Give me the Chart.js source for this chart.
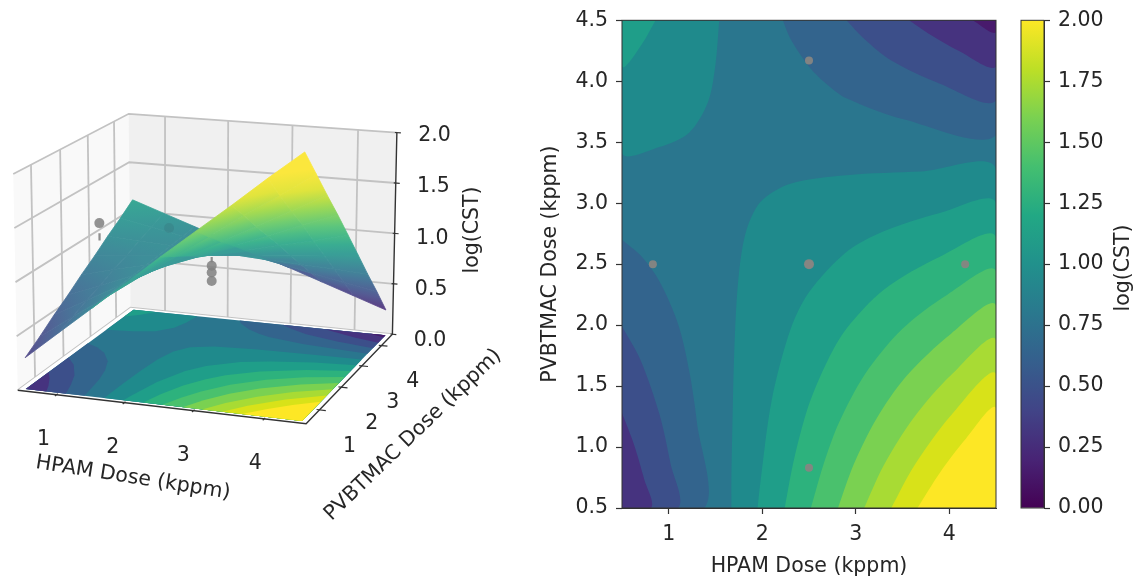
<!DOCTYPE html>
<html>
<head>
<meta charset="utf-8">
<script src="https://cdn.jsdelivr.net/npm/chart.js@4/dist/chart.umd.min.js"></script>
<style>
  html, body { margin: 0; background: #fff; }
  canvas { position: absolute; top: 0; filter: blur(0.4px); }
</style>
</head>
<body>
<canvas id="c3d" width="520" height="579" style="left:0"></canvas>
<canvas id="cmap" width="500" height="579" style="left:520px"></canvas>
<canvas id="cbar" width="134" height="579" style="left:1010px"></canvas>
<script>
const hpamTicks = [1, 2, 3, 4];
const pvbTicks = [0.5, 1, 1.5, 2, 2.5, 3, 3.5, 4, 4.5];
const pvbTicks3d = [1, 2, 3, 4];
const zTicks3d = [0, 0.5, 1, 1.5, 2];
const cbarTicks = [0, 0.25, 0.5, 0.75, 1, 1.25, 1.5, 1.75, 2];

// measured doses
const doseX = [0.83, 2.5, 4.17, 2.5, 2.5];
const doseY = [2.5, 2.5, 2.5, 0.83, 4.17];

// 3d scatter, only the ones that show past the surface
const shown3d = [[0.79, 2.5, 1.23], [2.5, 2.5, 0.915], [2.5, 2.5, 0.85], [2.5, 2.5, 0.77]];
const faint3d = [[2.5, 0.83, 1.55]];
const stems3d = [[[0.79, 2.5, 1.13], [0.79, 2.5, 1.06]], [[2.5, 2.5, 1.0], [2.5, 2.5, 0.95]]];

// surface log(CST), rows are PVBTMAC, columns are HPAM
const gridDose = [0.5, 1, 1.5, 2, 2.5, 3, 3.5, 4, 4.5];
const surface = [
  [0.29, 0.55, 0.81, 1.07, 1.34, 1.60, 1.86, 2.13, 2.39],
  [0.39, 0.61, 0.82, 1.04, 1.26, 1.47, 1.69, 1.90, 2.12],
  [0.50, 0.67, 0.84, 1.01, 1.18, 1.34, 1.51, 1.68, 1.85],
  [0.60, 0.72, 0.85, 0.97, 1.09, 1.22, 1.34, 1.47, 1.59],
  [0.71, 0.79, 0.86, 0.94, 1.02, 1.09, 1.17, 1.24, 1.32],
  [0.81, 0.84, 0.87, 0.90, 0.93, 0.96, 0.99, 1.02, 1.05],
  [0.92, 0.90, 0.885, 0.87, 0.85, 0.83, 0.815, 0.80, 0.78],
  [1.02, 0.96, 0.895, 0.83, 0.77, 0.71, 0.645, 0.58, 0.52],
  [1.13, 1.02, 0.91, 0.80, 0.69, 0.58, 0.47, 0.36, 0.25]
];

// contour lines, [HPAM, PVBTMAC]
const lowLeft45 = [[0.5,2.70],[0.70,2.57],[0.90,2.36],[1.10,2.01],[1.22,1.62],[1.30,1.21],[1.38,0.5]];
const lowLeft34 = [[0.5,1.99],[0.70,1.71],[0.90,1.27],[1.02,0.86],[1.10,0.5]];
const lowLeft23 = [[0.5,1.28],[0.62,1.04],[0.74,0.73],[0.81,0.5]];
const lowRight56 = [[1.67,0.5],[1.67,0.73],[1.68,1.15],[1.70,1.77],[1.74,2.34],[1.82,2.75],[1.98,3.01],[2.30,3.16],[2.90,3.23],[3.70,3.26],[4.5,3.28]];
const lowRight67 = [[1.95,0.5],[1.98,0.71],[2.10,1.38],[2.30,1.96],[2.50,2.27],[2.90,2.60],[3.30,2.77],[3.90,2.92],[4.5,3.0]];
const lowRight78 = [[2.24,0.5],[2.34,0.90],[2.50,1.35],[2.70,1.71],[2.90,1.97],[3.30,2.29],[3.90,2.56],[4.5,2.72]];
const lowRight89 = [[2.52,0.5],[2.66,0.87],[2.82,1.20],[3.10,1.60],[3.50,1.97],[3.98,2.25],[4.5,2.44]];
const lowRight910 = [[2.81,0.5],[2.98,0.86],[3.22,1.23],[3.54,1.58],[4.02,1.93],[4.5,2.16]];
const lowRight1011 = [[3.09,0.5],[3.30,0.85],[3.62,1.24],[4.02,1.59],[4.5,1.88]];
const lowRight1112 = [[3.38,0.5],[3.62,0.84],[4.02,1.26],[4.5,1.60]];
const lowRight1213 = [[3.66,0.5],[3.90,0.79],[4.18,1.07],[4.5,1.32]];
const topLeft56 = [[1.54,4.5],[1.50,4.14],[1.42,3.83],[1.22,3.58],[0.90,3.46],[0.5,3.41]];
const topLeft67 = [[0.86,4.5],[0.70,4.29],[0.5,4.12]];
const topRight45 = [[2.22,4.5],[2.30,4.35],[2.50,4.12],[2.70,3.97],[2.90,3.86],[3.50,3.69],[4.5,3.56]];
const topRight34 = [[2.90,4.5],[3.10,4.34],[3.38,4.17],[3.90,3.98],[4.5,3.84]];
const topRight23 = [[3.57,4.5],[3.78,4.39],[4.10,4.25],[4.5,4.12]];
const topRight12 = [[4.25,4.5],[4.5,4.40]];

const bandColors = ['#440154','#481a6c','#46337f','#3c4f8a','#33648d','#2a768e','#1f8a8c','#1f9e89','#2db27d','#4ac16d','#7ad151','#a8db34','#d8e219','#fde725'];
const viridis = ['#440154','#482475','#414487','#355f8d','#2a788e','#21918c','#22a884','#44bf70','#7ad151','#bddf26','#fde725'];

// paint order: the saddle band first, then nested from the outside in
const past = 0.2;
const LL = [0.5 - past, 0.5 - past], LR = [4.5 + past, 0.5 - past], TL = [0.5 - past, 4.5 + past], TR = [4.5 + past, 4.5 + past];
const regions = [
  [5, [LL, LR, TR, TL]],
  [6, [...lowRight56, LR]], [7, [...lowRight67, LR]], [8, [...lowRight78, LR]], [9, [...lowRight89, LR]],
  [10, [...lowRight910, LR]], [11, [...lowRight1011, LR]], [12, [...lowRight1112, LR]], [13, [...lowRight1213, LR]],
  [6, [...topLeft56, TL]], [7, [...topLeft67, TL]],
  [4, [...lowLeft45, LL]], [3, [...lowLeft34, LL]], [2, [...lowLeft23, LL]],
  [4, [...topRight45, TR]], [3, [...topRight34, TR]], [2, [...topRight23, TR]], [1, [...topRight12, TR]]
];

const fontFamily = '"DejaVu Sans"';
const textColor = '#262626';
const fontPx = 20.5;

// ---- 3d box projection, fitted to the four floor corners ----
const boxMin = 0.4167, boxMax = 4.5833;
const floorC = { left: [13, 392], front: [307, 426], right: [395, 335], back: [128, 308] };
const dx1 = floorC.front[0] - floorC.right[0], dx2 = floorC.back[0] - floorC.right[0];
const dy1 = floorC.front[1] - floorC.right[1], dy2 = floorC.back[1] - floorC.right[1];
const sx = floorC.left[0] - floorC.front[0] + floorC.right[0] - floorC.back[0];
const sy = floorC.left[1] - floorC.front[1] + floorC.right[1] - floorC.back[1];
const den = dx1 * dy2 - dx2 * dy1;
const hg = (sx * dy2 - dx2 * sy) / den, hh = (dx1 * sy - sx * dy1) / den;
const ha = floorC.front[0] - floorC.left[0] + hg * floorC.front[0], hb = floorC.back[0] - floorC.left[0] + hh * floorC.back[0];
const hd = floorC.front[1] - floorC.left[1] + hg * floorC.front[1], he = floorC.back[1] - floorC.left[1] + hh * floorC.back[1];

function project(x, y, z) {
  const u = (x - boxMin) / (boxMax - boxMin), v = (y - boxMin) / (boxMax - boxMin);
  const w = hg * u + hh * v + 1;
  const px = (ha * u + hb * v + floorC.left[0]) / w;
  const py = (hd * u + he * v + floorC.left[1]) / w;
  return { x: px + z * 0.012 * (px - 205), y: py - z * 110 / w };
}

function viridisAt(t, fade) {
  const k = Math.min(Math.max(t, 0), 1) * (viridis.length - 1);
  const i = Math.min(Math.floor(k), viridis.length - 2), f = k - i;
  const c = (hex, p) => parseInt(hex.substr(p, 2), 16);
  const mix = p => c(viridis[i], p) * (1 - f) + c(viridis[i + 1], p) * f;
  const out = [1, 3, 5].map(p => Math.round(mix(p) * (1 - fade) + 235 * fade));
  return `rgb(${out[0]},${out[1]},${out[2]})`;
}

let layer = 0;
function shape(points, color, extra) {
  return Object.assign({
    data: points, fill: 'shape', backgroundColor: color, borderWidth: 0,
    pointRadius: 0, tension: 0, order: -(layer++)
  }, extra);
}
function stroke(points, color, width) {
  return { data: points, fill: false, borderColor: color, borderWidth: width, pointRadius: 0, tension: 0, order: -(layer++) };
}
function dots(points, color, radius) {
  return { data: points, showLine: false, pointRadius: radius, pointBackgroundColor: color, pointBorderWidth: 0, order: -(layer++) };
}

const gctx = document.getElementById('c3d').getContext('2d');
const surfaceFade = 0.12;

// one surface cell, filled along its steepest direction on screen
function cellFill(p, z) {
  const e1x = p[1].x - p[0].x, e1y = p[1].y - p[0].y, e2x = p[3].x - p[0].x, e2y = p[3].y - p[0].y;
  const dz1 = z[1] - z[0], dz2 = z[3] - z[0];
  const det = e1x * e2y - e2x * e1y;
  if (Math.abs(det) < 1e-6) return viridisAt((z[0] + z[2]) / 4, surfaceFade);
  const A = (dz1 * e2y - dz2 * e1y) / det, B = (dz2 * e1x - dz1 * e2x) / det;
  const n2 = A * A + B * B;
  if (n2 < 1e-10) return viridisAt(z[0] / 2, surfaceFade);
  const zLo = Math.min(...z), zHi = Math.max(...z);
  const at = val => ({ x: p[0].x + A * (val - z[0]) / n2, y: p[0].y + B * (val - z[0]) / n2 });
  const s = at(zLo), e = at(zHi);
  const g = gctx.createLinearGradient(s.x, s.y, e.x, e.y);
  [0, 0.5, 1].forEach(t => g.addColorStop(t, viridisAt((zLo + (zHi - zLo) * t) / 2, surfaceFade)));
  return g;
}

function build3d() {
  const sets = [];
  const lo = boxMin, hi = boxMax;
  const c3 = (a, b, c) => project(a, b, c);
  // walls
  sets.push(shape([c3(lo, lo, 0), c3(lo, hi, 0), c3(lo, hi, 2), c3(lo, lo, 2)], '#f9f9f9'));
  sets.push(shape([c3(lo, hi, 0), c3(hi, hi, 0), c3(hi, hi, 2), c3(lo, hi, 2)], '#f0f0f0'));
  const gridColor = '#c2c2c2';
  pvbTicks3d.forEach(y => sets.push(stroke([c3(lo, y, 0), c3(lo, y, 2)], gridColor, 1.8)));
  hpamTicks.forEach(x => sets.push(stroke([c3(x, hi, 0), c3(x, hi, 2)], gridColor, 1.8)));
  zTicks3d.forEach(z => sets.push(stroke([c3(lo, lo, z), c3(lo, hi, z), c3(hi, hi, z)], gridColor, 1.8)));
  // floor
  sets.push(shape([c3(lo, lo, 0), c3(hi, lo, 0), c3(hi, hi, 0), c3(lo, hi, 0)], '#ffffff'));
  const clampDose = v => Math.min(Math.max(v, 0.5), 4.5);
  regions.forEach(([band, pts]) => {
    sets.push(shape(pts.map(q => c3(clampDose(q[0]), clampDose(q[1]), 0)), bandColors[band]));
  });
  // axes edges and ticks
  const axisColor = '#333333';
  sets.push(stroke([c3(lo, lo, 0), c3(hi, lo, 0), c3(hi, hi, 0), c3(hi, hi, 2)], axisColor, 1.4));
  hpamTicks.forEach(x => sets.push(stroke([c3(x, lo + 0.04, 0), c3(x, lo - 0.06, 0)], axisColor, 1.2)));
  pvbTicks3d.forEach(y => sets.push(stroke([c3(hi - 0.04, y, 0), c3(hi + 0.09, y, 0)], axisColor, 1.2)));
  zTicks3d.forEach(z => sets.push(stroke([c3(hi - 0.03, hi, z), c3(hi + 0.06, hi, z)], axisColor, 1.2)));
  // surface, far cells first (camera sits towards high HPAM, low PVBTMAC)
  const cells = [];
  for (let r = 0; r < gridDose.length - 1; r++) {
    for (let c = 0; c < gridDose.length - 1; c++) cells.push([r, c]);
  }
  const near = ([r, c]) => 0.5 * gridDose[c] - 0.866 * gridDose[r];
  cells.sort((a, b) => near(a) - near(b));
  cells.forEach(([r, c]) => {
    const idx = [[r, c], [r, c + 1], [r + 1, c + 1], [r + 1, c]];
    const z = idx.map(([i, j]) => surface[i][j]);
    const p = idx.map(([i, j]) => c3(gridDose[j], gridDose[i], surface[i][j]));
    const f = cellFill(p, z);
    sets.push(shape([...p, p[0]], f, { borderColor: f, borderWidth: 0.8 }));
  });
  // scatter
  stems3d.forEach(s => sets.push(stroke(s.map(q => c3(q[0], q[1], q[2])), 'rgba(125,125,125,0.85)', 2.2)));
  sets.push(dots(faint3d.map(q => c3(q[0], q[1], q[2])), 'rgba(50,90,100,0.18)', 5));
  sets.push(dots(shown3d.map(q => c3(q[0], q[1], q[2])), 'rgba(128,128,128,0.85)', 5));
  return sets;
}

function label(ctx, text, x, y, deg) {
  ctx.save();
  ctx.translate(x, y);
  ctx.rotate((deg || 0) * Math.PI / 180);
  ctx.font = `${fontPx}px ${fontFamily}`;
  ctx.fillStyle = textColor;
  ctx.textAlign = 'center';
  ctx.textBaseline = 'middle';
  ctx.fillText(text, 0, 0);
  ctx.restore();
}

const labels3d = {
  id: 'labels3d',
  afterDraw(chart) {
    const ctx = chart.ctx;
    hpamTicks.forEach(x => {
      const p = project(x, boxMin, 0);
      label(ctx, String(x), p.x - 9, p.y + 43);
    });
    pvbTicks3d.forEach(y => {
      const p = project(boxMax, y, 0);
      label(ctx, String(y), p.x + 29, p.y + 35);
    });
    zTicks3d.forEach(z => {
      const p = project(boxMax, boxMax, z);
      label(ctx, z.toFixed(1), p.x + 35, p.y + 6);
    });
    label(ctx, 'HPAM Dose (kppm)', 133, 478, 8.9);
    label(ctx, 'PVBTMAC Dose (kppm)', 413, 435, -44);
    label(ctx, 'log(CST)', 473, 230, -90);
  }
};

new Chart(gctx, {
  type: 'line',
  data: { datasets: build3d() },
  options: {
    responsive: false, animation: false, events: [],
    elements: { line: { capBezierPoints: false } },
    layout: { padding: 0 },
    plugins: { legend: { display: false }, tooltip: { enabled: false } },
    scales: {
      x: { type: 'linear', min: 0, max: 520, display: false },
      y: { type: 'linear', min: 0, max: 579, reverse: true, display: false }
    }
  },
  plugins: [labels3d]
});

// ---- contour map ----
const frame = {
  id: 'frame',
  afterDatasetsDraw(chart) {
    const a = chart.chartArea, ctx = chart.ctx;
    ctx.save();
    ctx.strokeStyle = '#333333';
    ctx.lineWidth = 1;
    ctx.strokeRect(a.left, a.top, a.right - a.left, a.bottom - a.top);
    ctx.restore();
  }
};

layer = 0;
const mapSets = regions.map(([band, pts]) => shape(pts.map(q => ({ x: q[0], y: q[1] })), bandColors[band], { tension: 0.3 }));
mapSets.push(dots(doseX.map((x, i) => ({ x, y: doseY[i] })), 'rgba(135,133,130,0.95)', 4));
mapSets.push(dots([{ x: doseX[1], y: doseY[1] }], 'rgba(135,133,130,0.95)', 5));

const tickFont = { family: fontFamily, size: fontPx };

new Chart(document.getElementById('cmap'), {
  type: 'line',
  data: { datasets: mapSets },
  options: {
    responsive: false, animation: false, events: [],
    elements: { line: { capBezierPoints: false } },
    layout: { padding: { top: 19, right: 24, left: 0, bottom: 0 } },
    plugins: { legend: { display: false }, tooltip: { enabled: false } },
    scales: {
      x: {
        type: 'linear', min: 0.5, max: 4.5,
        afterBuildTicks: s => { s.ticks = hpamTicks.map(value => ({ value })); },
        afterFit: s => { s.height = 71; },
        grid: { drawOnChartArea: false, tickLength: 6, tickColor: '#333', tickWidth: 1.2 },
        border: { color: '#333' },
        ticks: { font: tickFont, color: textColor, padding: 8, maxRotation: 0, autoSkip: false, callback: v => String(v) },
        title: { display: true, text: 'HPAM Dose (kppm)', font: tickFont, color: textColor, padding: { top: 6, bottom: 0 } }
      },
      y: {
        type: 'linear', min: 0.5, max: 4.5,
        afterBuildTicks: s => { s.ticks = pvbTicks.map(value => ({ value })); },
        afterFit: s => { s.width = 102; },
        grid: { drawOnChartArea: false, tickLength: 6, tickColor: '#333', tickWidth: 1.2 },
        border: { color: '#333' },
        ticks: { font: tickFont, color: textColor, padding: 8, autoSkip: false, callback: v => v.toFixed(1) },
        title: { display: true, text: 'PVBTMAC Dose (kppm)', font: tickFont, color: textColor, padding: { top: 18, bottom: 0 } }
      }
    }
  },
  plugins: [frame]
});

// ---- colorbar ----
const cbarTitle = {
  id: 'cbarTitle',
  afterDraw(chart) { label(chart.ctx, 'log(CST)', 1124 - 1010, 268, -90); }
};

new Chart(document.getElementById('cbar'), {
  type: 'bar',
  data: {
    labels: [''],
    datasets: [{
      data: [[0, 2]], barPercentage: 1, categoryPercentage: 1,
      backgroundColor(c) {
        const a = c.chart.chartArea;
        if (!a) return viridis[0];
        const g = c.chart.ctx.createLinearGradient(0, a.bottom, 0, a.top);
        viridis.forEach((col, i) => g.addColorStop(i / (viridis.length - 1), col));
        return g;
      }
    }]
  },
  options: {
    responsive: false, animation: false, events: [],
    layout: { padding: { top: 19, left: 11, right: 0, bottom: 71 } },
    plugins: { legend: { display: false }, tooltip: { enabled: false } },
    scales: {
      x: { display: false },
      y: {
        position: 'right', min: 0, max: 2,
        afterBuildTicks: s => { s.ticks = cbarTicks.map(value => ({ value })); },
        afterFit: s => { s.width = 100; },
        grid: { drawOnChartArea: false, tickLength: 6, tickColor: '#333', tickWidth: 1.2 },
        border: { color: '#333' },
        ticks: { font: tickFont, color: textColor, padding: 8, autoSkip: false, callback: v => v.toFixed(2) }
      }
    }
  },
  plugins: [frame, cbarTitle]
});
</script>
</body>
</html>
